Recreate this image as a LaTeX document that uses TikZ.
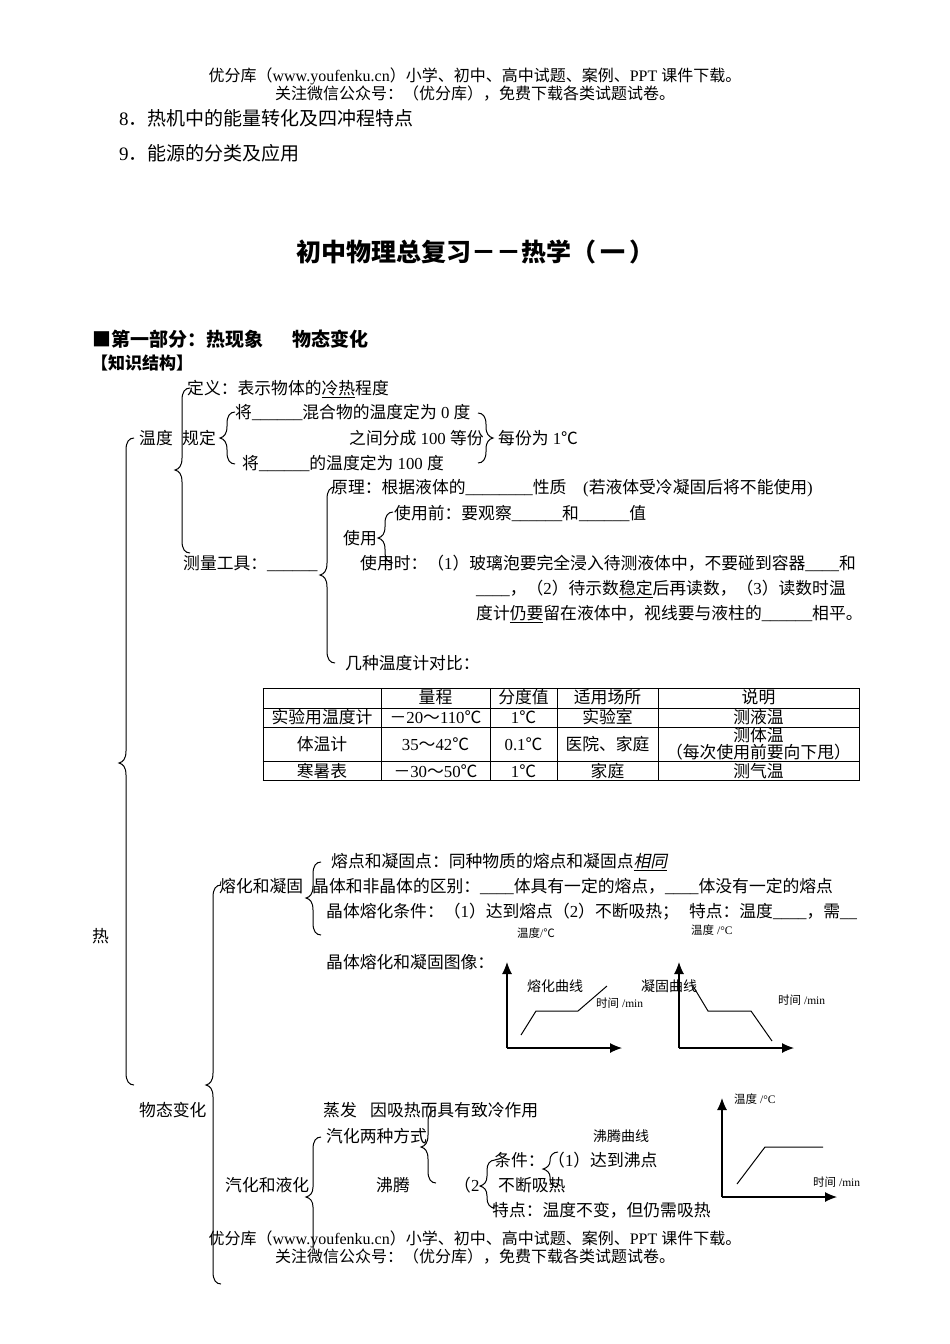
\documentclass[tikz,border=0pt]{standalone}
\usepackage{fontspec}
\setmainfont{Liberation Serif}
\newfontfamily\cjk[ItalicFont={Noto Sans CJK SC},ItalicFeatures={FakeSlant=0.2}]{Noto Sans CJK SC}
\usetikzlibrary{arrows.meta}
% Chinese characters go to the CJK family by themselves
\XeTeXinterchartokenstate=1
\newXeTeXintercharclass\cjkclass
\makeatletter
\def\setcjkrange#1#2{\count@=#1\relax\loop\XeTeXcharclass\count@=\cjkclass\ifnum\count@<#2\relax\advance\count@ by 1\repeat}
\makeatother
\setcjkrange{"4E00}{"9FFF}
\setcjkrange{"3000}{"303F}
\setcjkrange{"FF00}{"FFEF}
\XeTeXcharclass"2103=\cjkclass
\XeTeXcharclass"25A0=\cjkclass
\XeTeXinterchartoks 0 \cjkclass = {\cjk}
\XeTeXinterchartoks 4095 \cjkclass = {\cjk}
\XeTeXinterchartoks \cjkclass 0 = {\rmfamily}
\XeTeXinterchartoks \cjkclass 4095 = {\rmfamily}
\tikzstyle{body} = [anchor=west, inner sep=0pt, text height=14pt, text depth=2pt, font=\fontsize{16.8}{20}\selectfont]
\tikzstyle{foot} = [inner sep=0pt, text height=13.5pt, text depth=2pt, font=\fontsize{16}{18}\selectfont]
\tikzstyle{cell} = [inner sep=0pt, align=center, font=\fontsize{16.8}{17.5}\selectfont]
\tikzstyle{head} = [anchor=west, inner sep=0pt, text height=17pt, text depth=1.5pt, font=\fontsize{19}{22}\selectfont]
\tikzstyle{chartlabel} = [anchor=west, inner sep=0pt, font=\fontsize{14}{16}\selectfont]
\tikzstyle{tick} = [anchor=west, inner sep=0pt, font=\fontsize{11.5}{13}\selectfont]
\tikzstyle{bracket} = [line width=1pt]
\tikzstyle{axis} = [line width=1.1pt, -{Latex[length=12pt,width=10pt]}]
\tikzstyle{curve} = [line width=1pt]
% direction, x, top, tip, bottom
\newcommand{\wordbrace}[5]{
    \pgfmathsetmacro{\rr}{min(12,min(#4-#3,#5-#4)*0.45)}
    \draw[bracket] (#2+#1*8,#3) .. controls (#2+#1*3,#3) and (#2,#3+4) .. (#2,#3+\rr)
        -- (#2,#4-\rr) .. controls (#2,#4-4) and (#2-#1*3,#4-1) .. (#2-#1*7,#4)
        .. controls (#2-#1*3,#4+1) and (#2,#4+4) .. (#2,#4+\rr)
        -- (#2,#5-\rr) .. controls (#2,#5-4) and (#2+#1*3,#5) .. (#2+#1*8,#5);
}

\begin{document}
\begin{tikzpicture}[x=1pt, y=-1pt]
    \useasboundingbox (0,0) rectangle (950,1344);
    % Page header and footer
    \node[foot] (topa) at (475,76) {优分库（www.youfenku.cn）小学、初中、高中试题、案例、PPT 课件下载。};
    \node[foot] (topb) at (475,94) {关注微信公众号：（优分库），免费下载各类试题试卷。};
    \node[foot] (bota) at (475,1239) {优分库（www.youfenku.cn）小学、初中、高中试题、案例、PPT 课件下载。};
    \node[foot] (botb) at (475,1257) {关注微信公众号：（优分库），免费下载各类试题试卷。};
    % Headings
    \node[head] (eight) at (119,118) {8．热机中的能量转化及四冲程特点};
    \node[head] (nine) at (119,153) {9．能源的分类及应用};
    \node[anchor=west, inner sep=0pt, font=\fontsize{25}{28}\selectfont\bfseries] (title) at (296,252) {初中物理总复习－－热学（\,一\,）};
    \node[head, font=\fontsize{19}{22}\selectfont\bfseries] (partone) at (92,339) {■第一部分：热现象};
    \node[head, font=\fontsize{19}{22}\selectfont\bfseries] (parttwo) at (292,339) {物态变化};
    \node[body, font=\fontsize{17}{20}\selectfont\bfseries] (zhishi) at (91,363) {【知识结构】};
    % Temperature
    \node[body] (re) at (92,936) {热};
    \node[body] (wendu) at (139,438) {温度};
    \node[body] (dingyi) at (187,388) {定义：表示物体的\underline{冷热}程度};
    \node[body] (guiding) at (182,438) {规定};
    \node[body] (ling) at (235,412) {将\_\_\_\_\_\_混合物的温度定为 0 度};
    \node[body] (fen) at (349,438) {之间分成 100 等份};
    \node[body] (yibai) at (242,463) {将\_\_\_\_\_\_的温度定为 100 度};
    \node[body] (meifen) at (498,438) {每份为 1℃};
    \node[body] (gongju) at (183,563) {测量工具：\_\_\_\_\_\_};
    \node[body] (yuanli) at (331,487) {原理：根据液体的\_\_\_\_\_\_\_\_性质 \ \ \ (若液体受冷凝固后将不能使用)};
    \node[body] (shiyong) at (343,538) {使用};
    \node[body] (qian) at (394,513) {使用前：要观察\_\_\_\_\_\_和\_\_\_\_\_\_值};
    \node[body] (shi) at (360,563) {使用时：（1）玻璃泡要完全浸入待测液体中，不要碰到容器\_\_\_\_和};
    \node[body] (shib) at (476,588) {\_\_\_\_，（2）待示数\underline{稳定}后再读数，（3）读数时温};
    \node[body] (shic) at (476,613) {度计\underline{仍要}留在液体中，视线要与液柱的\_\_\_\_\_\_相平。};
    \node[body] (duibi) at (345,663) {几种温度计对比：};
    % Table
    \foreach \y in {688,708,727,761,780}
        \draw[bracket] (262.5,\y) -- (859.5,\y);
    \foreach \x in {263,381,490,557,658,859}
        \draw[bracket] (\x,688) -- (\x,780);
    \node[cell] (lc) at (435.5,697) {量程};
    \node[cell] (fd) at (523.5,697) {分度值};
    \node[cell] (cs) at (607.5,697) {适用场所};
    \node[cell] (sm) at (758.5,697) {说明};
    \node[cell] (sy) at (322,717) {实验用温度计};
    \node[cell] (sylc) at (435.5,717) {－20～110℃};
    \node[cell] (syfd) at (523.5,717) {1℃};
    \node[cell] (sycs) at (607.5,717) {实验室};
    \node[cell] (sysm) at (758.5,717) {测液温};
    \node[cell] (tw) at (322,744) {体温计};
    \node[cell] (twlc) at (435.5,744) {35～42℃};
    \node[cell] (twfd) at (523.5,744) {0.1℃};
    \node[cell] (twcs) at (607.5,744) {医院、家庭};
    \node[cell] (twsm) at (758.5,744) {测体温\\（每次使用前要向下甩）};
    \node[cell] (hs) at (322,771) {寒暑表};
    \node[cell] (hslc) at (435.5,771) {－30～50℃};
    \node[cell] (hsfd) at (523.5,771) {1℃};
    \node[cell] (hscs) at (607.5,771) {家庭};
    \node[cell] (hssm) at (758.5,771) {测气温};
    % Melting
    \node[body] (wutai) at (139,1110) {物态变化};
    \node[body] (ronghua) at (219,886) {熔化和凝固};
    \node[body] (rongdian) at (331,861) {熔点和凝固点：同种物质的熔点和凝固点\underline{\itshape 相同}};
    \node[body] (jingti) at (312,886) {晶体和非晶体的区别：\_\_\_\_体具有一定的熔点，\_\_\_\_体没有一定的熔点};
    \node[body] (tiaojian) at (326,911) {晶体熔化条件：（1）达到熔点（2）不断吸热；\hspace{10pt}特点：温度\_\_\_\_，需\_\_};
    \node[body] (tuxiang) at (326,962) {晶体熔化和凝固图像：};
    % Charts
    \coordinate (oa) at (507,1048);
    \coordinate (ya) at (507,962);
    \coordinate (xa) at (622,1048);
    \coordinate (ob) at (679,1048);
    \coordinate (yb) at (679,962);
    \coordinate (xb) at (794,1048);
    \coordinate (oc) at (722,1197);
    \coordinate (yc) at (722,1098);
    \coordinate (xc) at (837,1197);
    \draw[axis] (oa) -- (ya);
    \draw[axis] (oa) -- (xa);
    \draw[axis] (ob) -- (yb);
    \draw[axis] (ob) -- (xb);
    \draw[axis] (oc) -- (yc);
    \draw[axis] (oc) -- (xc);
    \draw[curve] (521,1035) -- (536,1011) -- (578,1011) -- (607,986);
    \draw[curve] (693,986) -- (708,1011) -- (751,1011) -- (772,1041);
    \draw[curve] (737,1184) -- (765,1147) -- (823,1147);
    \node[tick] (wda) at (517,933) {温度/℃};
    \node[tick] (wdb) at (691,930) {温度 /°C};
    \node[tick] (wdc) at (734,1099) {温度 /°C};
    \node[tick] (sja) at (596,1003) {时间 /min};
    \node[tick] (sjb) at (778,1000) {时间 /min};
    \node[tick] (sjc) at (813,1182) {时间 /min};
    \node[chartlabel] (rhqx) at (527,986) {熔化曲线};
    \node[chartlabel] (ngqx) at (641,986) {凝固曲线};
    \node[chartlabel] (fsqx) at (593,1136) {沸腾曲线};
    % Boiling
    \node[body] (zhengfa) at (323,1110) {蒸发};
    \node[body] (xishou) at (370,1110) {因吸热而具有致冷作用};
    \node[body] (liangzhong) at (326,1136) {汽化两种方式};
    \node[body] (qihua) at (225,1185) {汽化和液化};
    \node[body] (feiteng) at (376,1185) {沸腾};
    \node[body] (kuoer) at (454,1185) {（2};
    \node[body] (fstj) at (494,1160) {条件：};
    \node[body] (fsyi) at (548,1160) {（1）达到沸点};
    \node[body] (buduan) at (498,1185) {不断吸热};
    \node[body] (tedian) at (492,1210) {特点：温度不变，但仍需吸热};
    % Braces
    \wordbrace{1}{126}{438}{763}{1085}
    \wordbrace{1}{213}{885}{1085}{1284}
    \wordbrace{1}{182}{388}{470}{553}
    \wordbrace{1}{227}{412}{438}{464}
    \wordbrace{-1}{486}{413}{438}{463}
    \wordbrace{1}{327}{487}{575}{663}
    \wordbrace{1}{385}{512}{538}{563}
    \wordbrace{1}{313}{862}{898}{935}
    \wordbrace{1}{428}{1110}{1147}{1183}
    \wordbrace{1}{487}{1160}{1186}{1208}
    \wordbrace{1}{550}{1152}{1169}{1187}
    % this one runs into the footer
    \draw[bracket] (321,1137) .. controls (316,1137) and (313,1141) .. (313,1149)
        -- (313,1187) .. controls (313,1193) and (310,1196) .. (306,1197)
        .. controls (310,1198) and (313,1201) .. (313,1207) -- (313,1250);
\end{tikzpicture}
\end{document}
